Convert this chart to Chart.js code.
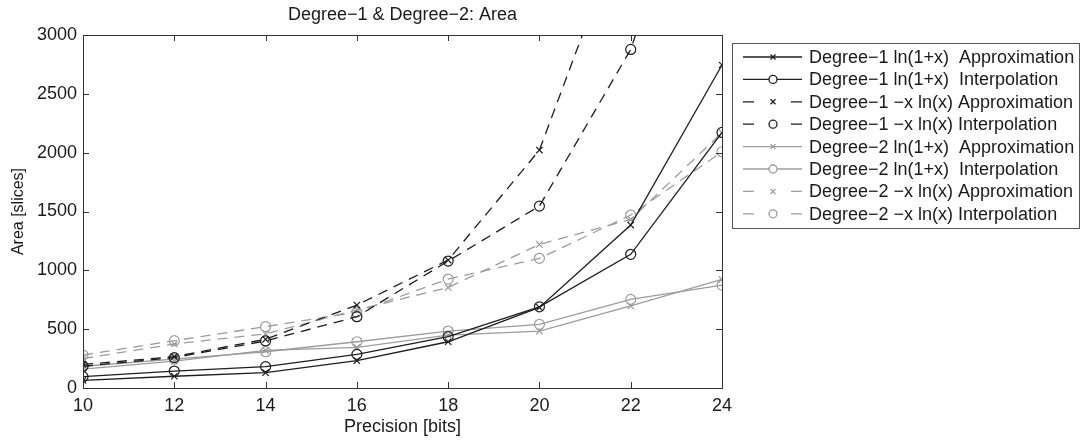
<!DOCTYPE html>
<html>
<head>
<meta charset="utf-8">
<script src="https://cdn.jsdelivr.net/npm/chart.js@4.4.1/dist/chart.umd.min.js"></script>
<style>
  html, body { margin: 0; padding: 0; background: #fff; }
  #wrap { width: 1080px; height: 440px; position: relative; }
</style>
</head>
<body>
<div id="wrap"><canvas id="chart" width="1080" height="440"></canvas></div>
<script>
// precision values on the x axis
const precision = [10, 12, 14, 16, 18, 20, 22, 24];
const yTicks = [0, 500, 1000, 1500, 2000, 2500, 3000];

// series values (area in slices)
const d1LnApprox  = [65, 100, 130, 232, 393, 685, 1385, 2745];
const d1LnInterp  = [96, 144, 181, 286, 436, 690, 1136, 2172];
const d1XlnApprox = [200, 266, 414, 705, 1087, 2022, 4100, 8000];
const d1XlnInterp = [185, 258, 400, 606, 1079, 1546, 2877, 5200];
const d2LnApprox  = [160, 228, 320, 345, 450, 484, 697, 923];
const d2LnInterp  = [185, 245, 308, 393, 484, 541, 753, 875];
const d2XlnApprox = [250, 374, 460, 663, 855, 1220, 1433, 2170];
const d2XlnInterp = [280, 402, 521, 645, 926, 1102, 1470, 2008];

const BLACK = "#1e1e1e";
const GRAY = "#9c9c9c";
const DASH = [10, 7];
const FONT = "'Liberation Sans', Arial, sans-serif";

function series(label, values, color, dashed, marker) {
  return {
    label: label,
    data: values.map((v, i) => ({ x: precision[i], y: v })),
    borderColor: color,
    backgroundColor: "rgba(0,0,0,0)",
    borderWidth: 1.3,
    borderDash: dashed ? DASH : [],
    pointStyle: marker,
    pointRadius: marker === "circle" ? 5 : 4.5,
    pointBorderColor: color,
    pointBackgroundColor: "rgba(0,0,0,0)",
    pointBorderWidth: 1.2,
    tension: 0
  };
}

const datasets = [
  series("Degree\u22121 ln(1+x)  Approximation", d1LnApprox, BLACK, false, "crossRot"),
  series("Degree\u22121 ln(1+x)  Interpolation", d1LnInterp, BLACK, false, "circle"),
  series("Degree\u22121 \u2212x ln(x) Approximation", d1XlnApprox, BLACK, true, "crossRot"),
  series("Degree\u22121 \u2212x ln(x) Interpolation", d1XlnInterp, BLACK, true, "circle"),
  series("Degree\u22122 ln(1+x)  Approximation", d2LnApprox, GRAY, false, "crossRot"),
  series("Degree\u22122 ln(1+x)  Interpolation", d2LnInterp, GRAY, false, "circle"),
  series("Degree\u22122 \u2212x ln(x) Approximation", d2XlnApprox, GRAY, true, "crossRot"),
  series("Degree\u22122 \u2212x ln(x) Interpolation", d2XlnInterp, GRAY, true, "circle")
];

// matlab style box: inward ticks on all four sides + top/right border, title over the plot
const boxPlugin = {
  id: "boxPlugin",
  afterDatasetsDraw(chart) {
    const ctx = chart.ctx;
    const a = chart.chartArea;
    const xs = chart.scales.x;
    const ys = chart.scales.y;
    const len = 6;
    ctx.save();
    ctx.strokeStyle = "#333";
    ctx.lineWidth = 1;
    ctx.strokeRect(a.left + 0.5, a.top + 0.5, a.right - a.left, a.bottom - a.top);
    ctx.beginPath();
    precision.forEach(v => {
      const px = Math.round(xs.getPixelForValue(v)) + 0.5;
      ctx.moveTo(px, a.bottom); ctx.lineTo(px, a.bottom - len);
      ctx.moveTo(px, a.top); ctx.lineTo(px, a.top + len);
    });
    yTicks.forEach(v => {
      const py = Math.round(ys.getPixelForValue(v)) + 0.5;
      ctx.moveTo(a.left, py); ctx.lineTo(a.left + len, py);
      ctx.moveTo(a.right, py); ctx.lineTo(a.right - len, py);
    });
    ctx.stroke();

    ctx.fillStyle = "#1a1a1a";
    ctx.font = "18px " + FONT;
    ctx.textAlign = "center";
    ctx.textBaseline = "middle";
    ctx.fillText("Degree\u22121 & Degree\u22122: Area", (a.left + a.right) / 2, 15);
    ctx.restore();
  }
};

// legend drawn like matlab: line sample with marker in the middle
const legendPlugin = {
  id: "legendPlugin",
  afterDraw(chart) {
    const ctx = chart.ctx;
    const boxL = 732, boxT = 43, boxR = 1079, boxB = 228;
    const rowH = 22.4, firstRow = 57;
    ctx.save();
    ctx.fillStyle = "#fff";
    ctx.fillRect(boxL, boxT, boxR - boxL, boxB - boxT);
    ctx.strokeStyle = "#555";
    ctx.lineWidth = 1;
    ctx.strokeRect(boxL + 0.5, boxT + 0.5, boxR - boxL, boxB - boxT);
    chart.data.datasets.forEach((ds, i) => {
      const y = firstRow + i * rowH;
      ctx.strokeStyle = ds.borderColor;
      ctx.lineWidth = ds.borderWidth;
      ctx.beginPath();
      if (ds.borderDash.length) {
        ctx.moveTo(743, y); ctx.lineTo(754, y);
        ctx.moveTo(791, y); ctx.lineTo(802, y);
      } else {
        ctx.moveTo(743, y); ctx.lineTo(802, y);
      }
      ctx.stroke();
      ctx.fillStyle = "#fff";
      Chart.helpers.drawPoint(ctx, {
        pointStyle: ds.pointStyle,
        radius: ds.pointStyle === "circle" ? 4 : 3.5,
        rotation: 0,
        borderWidth: 1.1
      }, 773, y);
      ctx.fillStyle = "#1a1a1a";
      ctx.font = "18px " + FONT;
      ctx.textBaseline = "middle";
      ctx.fillText(ds.label, 809, y + 1);
    });
    ctx.restore();
  }
};

const canvas = document.getElementById("chart");
const ctx = canvas.getContext("2d");

new Chart(ctx, {
  type: "line",
  data: { datasets: datasets },
  options: {
    responsive: false,
    animation: false,
    layout: { padding: { top: 35, right: 358, left: 0, bottom: 0 } },
    plugins: {
      legend: { display: false },
      tooltip: { enabled: false }
    },
    scales: {
      x: {
        type: "linear",
        min: 10,
        max: 24,
        afterBuildTicks(scale) {
          scale.ticks = precision.map(v => ({ value: v }));
        },
        afterFit(scale) { scale.height = 52; },
        grid: { display: false, drawTicks: false },
        border: { display: false },
        ticks: {
          color: "#1a1a1a",
          padding: 7,
          maxRotation: 0,
          font: { family: FONT, size: 18 }
        },
        title: {
          display: true,
          text: "Precision [bits]",
          color: "#1a1a1a",
          font: { family: FONT, size: 18 },
          padding: { top: 0, bottom: 2 }
        }
      },
      y: {
        type: "linear",
        min: 0,
        max: 3000,
        afterBuildTicks(scale) {
          scale.ticks = yTicks.map(v => ({ value: v }));
        },
        afterFit(scale) { scale.width = 83; },
        grid: { display: false, drawTicks: false },
        border: { display: false },
        ticks: {
          color: "#1a1a1a",
          padding: 6,
          font: { family: FONT, size: 18 },
          callback: v => String(v)
        },
        title: {
          display: true,
          text: "Area [slices]",
          color: "#1a1a1a",
          font: { family: FONT, size: 16 },
          padding: { top: 9, bottom: 0 }
        }
      }
    }
  },
  plugins: [boxPlugin, legendPlugin]
});
</script>
</body>
</html>
